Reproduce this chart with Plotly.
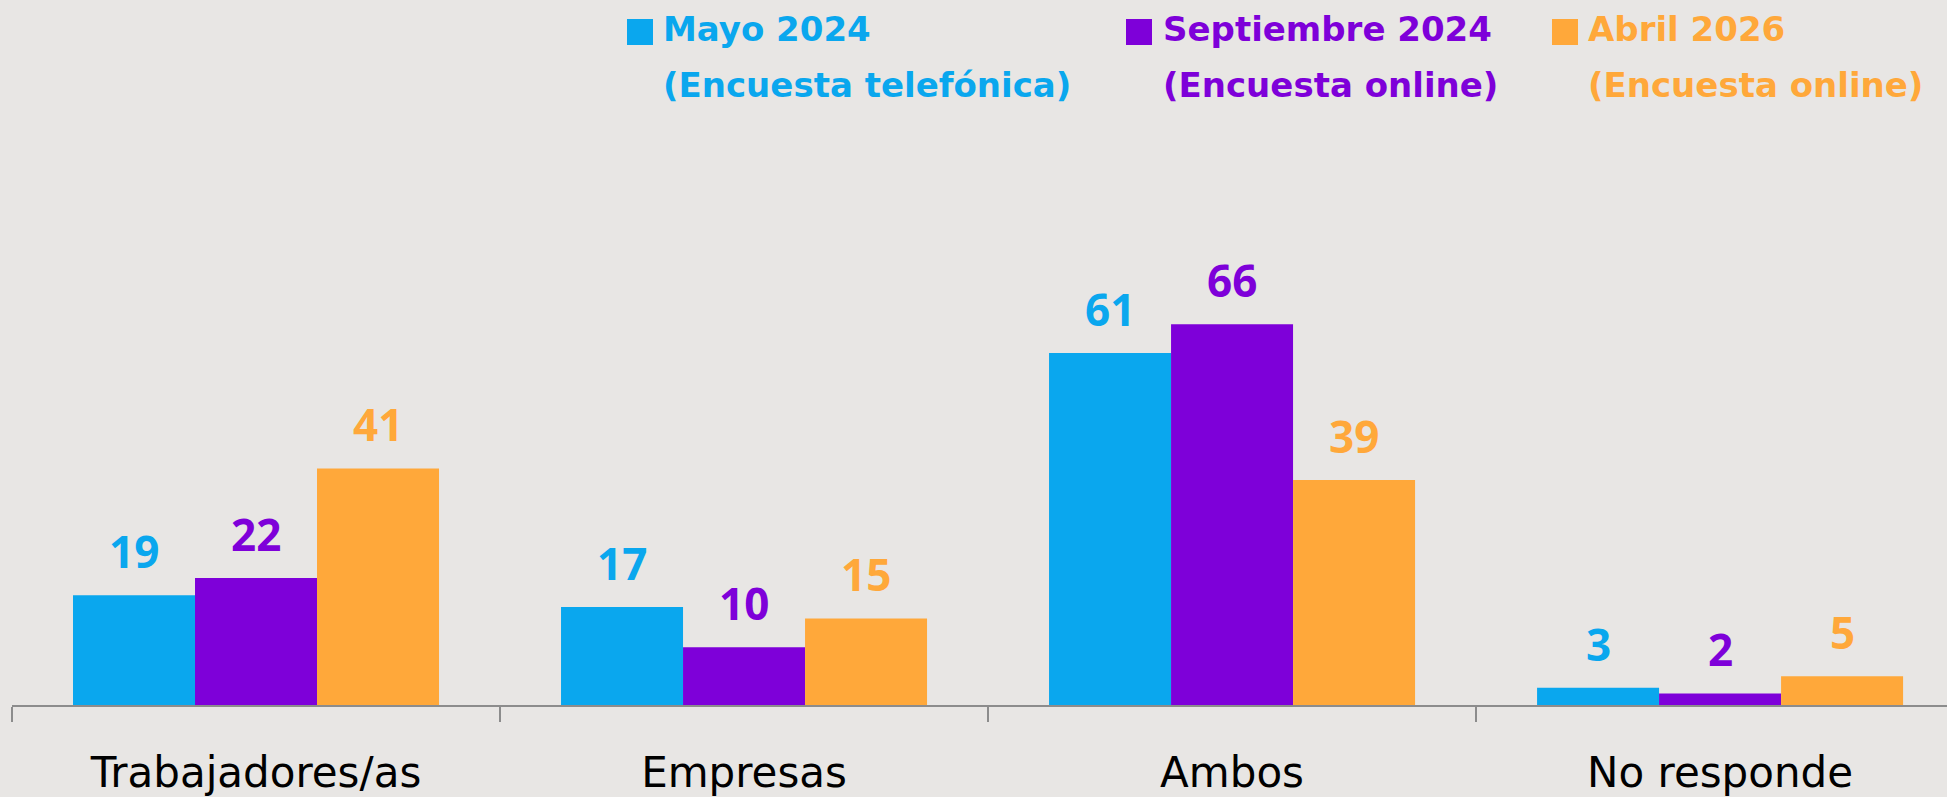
import plotly.graph_objects as go

categories = ["Trabajadores/as", "Empresas", "Ambos", "No responde"]
series_names = ["Mayo 2024", "Septiembre 2024", "Abril 2026"]
series_sub = ["(Encuesta telefónica)", "(Encuesta online)", "(Encuesta online)"]
mayo_2024 = [19, 17, 61, 3]
septiembre_2024 = [22, 10, 66, 2]
abril_2026 = [41, 15, 39, 5]
series_values = [mayo_2024, septiembre_2024, abril_2026]
colors = ["#0AA7EE", "#7E00D9", "#FFA83A"]

W, H = 1947, 797
ML, MR, MT, MB = 12, 0, 128, 92
BG = "#E8E6E4"
NUM_FONT = "Open Sans"
TXT_FONT = "DejaVu Sans"

fig = go.Figure()
for name, vals, col in zip(series_names, series_values, colors):
    fig.add_trace(go.Bar(x=categories, y=vals, name=name, marker=dict(color=col, line=dict(width=0)),
                         showlegend=False, hoverinfo="x+y"))

plot_w = W - ML - MR
plot_h = H - MT - MB
x_lo, x_hi = -0.5, 3.465
cat_px = plot_w / (x_hi - x_lo)
bar_px = cat_px * 0.75 / 3

annotations = []
for j, (vals, col) in enumerate(zip(series_values, colors)):
    for cat, v in zip(categories, vals):
        annotations.append(dict(x=cat, y=v, xref="x", yref="y", text=f"<b>{v}</b>", showarrow=False,
                                xshift=(j - 1) * bar_px, yshift=12, yanchor="bottom",
                                font=dict(family=NUM_FONT, size=44, color=col)))

def px2x(px):
    return (px - ML) / plot_w

def py2y(py):
    return (H - MB - py) / plot_h

shapes = []
legend_sq_x = [627, 1126, 1552]
legend_txt_x = [661, 1161, 1586]
for name, sub, col, sx, tx in zip(series_names, series_sub, colors, legend_sq_x, legend_txt_x):
    shapes.append(dict(type="rect", xref="paper", yref="paper", x0=px2x(sx), x1=px2x(sx + 26),
                       y0=py2y(45), y1=py2y(19), fillcolor=col, line=dict(width=0)))
    annotations.append(dict(x=px2x(tx), y=py2y(29), xref="paper", yref="paper", text=f"<b>{name}</b>",
                            showarrow=False, xanchor="left", yanchor="middle",
                            font=dict(family=TXT_FONT, size=34, color=col)))
    annotations.append(dict(x=px2x(tx), y=py2y(85), xref="paper", yref="paper", text=f"<b>{sub}</b>",
                            showarrow=False, xanchor="left", yanchor="middle",
                            font=dict(family=TXT_FONT, size=34, color=col)))

fig.update_layout(
    width=W, height=H,
    margin=dict(l=ML, r=MR, t=MT, b=MB, pad=0),
    paper_bgcolor=BG, plot_bgcolor=BG,
    barmode="group", bargap=0.25, bargroupgap=0,
    showlegend=False,
    annotations=annotations, shapes=shapes,
    xaxis=dict(type="category", range=[x_lo, x_hi], showgrid=False, zeroline=False,
               showline=True, linecolor="#8C8C8C", linewidth=2,
               ticks="outside", tickson="boundaries", ticklen=15, tickwidth=2, tickcolor="#8C8C8C",
               tickfont=dict(family=TXT_FONT, size=42, color="#000000"), ticklabelstandoff=30),
    yaxis=dict(range=[0, 100], visible=False, showgrid=False, zeroline=False),
)

fig.write_html("out.html", config={"displayModeBar": False},
               post_script="document.body.style.margin='0';document.body.style.overflow='hidden';")
